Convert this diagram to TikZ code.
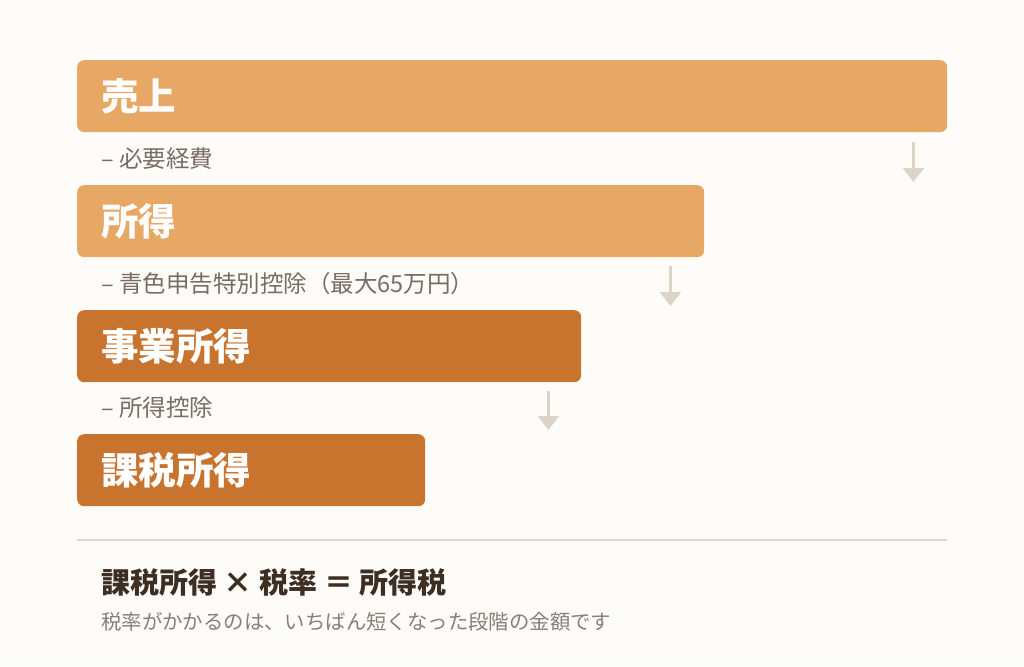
\documentclass[tikz,border=0pt]{standalone}
\usepackage{fontspec}
\usepackage{tikz}
\usetikzlibrary{arrows.meta}
\newfontfamily\cjk{Noto Sans CJK JP}
\definecolor{paper}{HTML}{FEFCF8}
\definecolor{barlight}{HTML}{E8A865}
\definecolor{bardark}{HTML}{C8742E}
\definecolor{flowgray}{HTML}{DDD4C8}
\definecolor{rulegray}{HTML}{E2D8CD}
\definecolor{notegray}{HTML}{786C64}
\definecolor{subgray}{HTML}{8A7E76}
\definecolor{inkbrown}{HTML}{3D2E24}
\tikzstyle{bar}=[rectangle,rounded corners=7pt,anchor=north west,minimum height=72pt,inner sep=0pt]
\tikzstyle{bartext}=[anchor=west,inner sep=0pt,text=white,font=\cjk\fontsize{37.5}{37.5}\selectfont\bfseries]
\tikzstyle{minus}=[anchor=west,inner sep=0pt,text=notegray,font=\cjk\fontsize{23.5}{23.5}\selectfont]
\tikzstyle{flow}=[flowgray,line width=3pt,-{Triangle[width=21pt,length=14pt]}]

\begin{document}
\begin{tikzpicture}[x=1pt,y=-1pt]
\fill[paper] (0,0) rectangle (1024,666);
\useasboundingbox (0,0) rectangle (1024,666);

\node[bar, fill=barlight, minimum width=870pt] at (77, 60) (uriage) {};
\node[bar, fill=barlight, minimum width=627pt] at (77, 185) (shotoku) {};
\node[bar, fill=bardark, minimum width=504pt] at (77, 310) (jigyo) {};
\node[bar, fill=bardark, minimum width=348pt] at (77, 434) (kazei) {};

\node[bartext] at ([xshift=24pt]uriage.west) (t1) {売上};
\node[bartext] at ([xshift=24pt]shotoku.west) (t2) {所得};
\node[bartext] at ([xshift=24pt]jigyo.west) (t3) {事業所得};
\node[bartext] at ([xshift=24pt]kazei.west) (t4) {課税所得};

\node[minus] at (101, 159) (m1) {– 必要経費};
\node[minus] at (101, 284) (m2) {– 青色申告特別控除（最大65万円）};
\node[minus] at (101, 408) (m3) {– 所得控除};

\coordinate (f1s) at ([xshift=-34pt, yshift=-10pt]uriage.south east);
\coordinate (f1e) at ([yshift=3pt]f1s |- shotoku.north);
\coordinate (f2s) at ([xshift=-34pt, yshift=-9pt]shotoku.south east);
\coordinate (f2e) at ([yshift=4pt]f2s |- jigyo.north);
\coordinate (f3s) at ([xshift=-33pt, yshift=-9pt]jigyo.south east);
\coordinate (f3e) at ([yshift=4pt]f3s |- kazei.north);
\draw[flow] (f1s) -- (f1e);
\draw[flow] (f2s) -- (f2e);
\draw[flow] (f3s) -- (f3e);

\coordinate (r1) at (77, 540);
\coordinate (r2) at (947, 540);
\draw[rulegray, line width=1.5pt] (r1) -- (r2);

\node[anchor=west, inner sep=0pt, text=inkbrown, font=\cjk\fontsize{29}{29}\selectfont\bfseries] at (101, 582) (formula) {課税所得 × 税率 ＝ 所得税};
\node[anchor=west, inner sep=0pt, text=subgray, font=\cjk\fontsize{20.4}{20.4}\selectfont] at (101, 622) (note) {税率がかかるのは、いちばん短くなった段階の金額です};

\end{tikzpicture}
\end{document}
